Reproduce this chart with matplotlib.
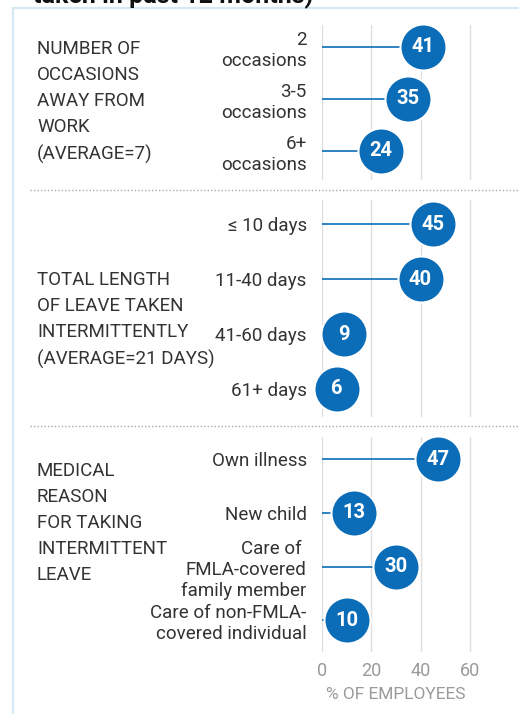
import matplotlib.pyplot as plt
from matplotlib.patches import Rectangle
from matplotlib.lines import Line2D

plt.rcParams['font.family'] = ['Roboto', 'DejaVu Sans']

# data
occ_labels = ['2\noccasions', '3-5\noccasions', '6+\noccasions']
occ_values = [41, 35, 24]
len_labels = ['\u2264 10 days', '11-40 days', '41-60 days', '61+ days']
len_values = [45, 40, 9, 6]
med_labels = ['Own illness', 'New child', 'Care of \nFMLA-covered\nfamily member',
              'Care of non-FMLA-\ncovered individual']
med_values = [47, 13, 30, 10]
group_titles = ['NUMBER OF\nOCCASIONS\nAWAY FROM\nWORK\n(AVERAGE=7)',
                'TOTAL LENGTH\nOF LEAVE TAKEN\nINTERMITTENTLY\n(AVERAGE=21 DAYS)',
                'MEDICAL\nREASON\nFOR TAKING\nINTERMITTENT\nLEAVE']
xticks = [0, 20, 40, 60]

BLUE = '#0b6db7'
W, H = 519, 714

fig = plt.figure(figsize=(W / 100, H / 100), dpi=100)

# light blue frame
fig.add_artist(Rectangle((13 / W, -0.1), 1.2, 1 - 8 / H + 0.1, transform=fig.transFigure,
                         fill=False, edgecolor='#d3eaf2', lw=1.6))
# title runs off the top edge, as in the source
fig.text(33 / W, 1 - 3 / H, 'taken in past 12 months)', fontsize=18, weight='bold',
         color='#111111', va='baseline', ha='left')


def panel(top, bottom, labels, values, step_lims, show_x=False):
    ax = fig.add_axes([322 / W, 1 - bottom / H, 1 - 322 / W, (bottom - top) / H])
    ys = list(range(len(values)))
    ax.hlines(ys, 0, values, color=BLUE, lw=1.2, zorder=2)
    ax.scatter(values, ys, s=1100, color=BLUE, edgecolor='white', lw=1.5, zorder=3, clip_on=False)
    for v, y in zip(values, ys):
        ax.text(v, y, str(v), ha='center', va='center', color='white', weight='bold',
                fontsize=14.5, zorder=4)
    ax.set_xlim(0, 80)
    ax.set_ylim(*step_lims)
    ax.set_yticks(ys)
    ax.set_yticklabels(labels, fontsize=13.5, color='#333333', ha='right')
    for lbl in ax.get_yticklabels():
        lbl.set_linespacing(1.22)
    ax.tick_params(axis='y', length=0, pad=11)
    ax.set_xticks(xticks)
    ax.grid(axis='x', color='#dedede', lw=1)
    ax.set_axisbelow(True)
    for s in ax.spines.values():
        s.set_visible(False)
    if show_x:
        ax.tick_params(axis='x', length=0, pad=7, labelsize=13, labelcolor='#9a9a9a')
        ax.set_xlabel('% OF EMPLOYEES', fontsize=12.5, color='#9a9a9a')
        ax.xaxis.set_label_coords(30 / 80, -0.165)
    else:
        ax.tick_params(axis='x', length=0, labelbottom=False)
    return ax


panel(25, 180, occ_labels, occ_values, (2.56, -0.42))
panel(200, 417, len_labels, len_values, (3.51, -0.44))
panel(437, 652, med_labels, med_values, (3.59, -0.41), show_x=True)

for title, top in zip(group_titles, [40, 271, 462]):
    fig.text(37 / W, 1 - top / H, title, fontsize=13.5, color='#333333', va='top', ha='left',
             linespacing=1.58)

for y in [190, 426]:
    fig.add_artist(Line2D([30 / W, 1], [1 - y / H, 1 - y / H], transform=fig.transFigure,
                          color='#aaaaaa', lw=1, ls=(0, (1, 1.5))))

fig.savefig('out.png', dpi=100)
